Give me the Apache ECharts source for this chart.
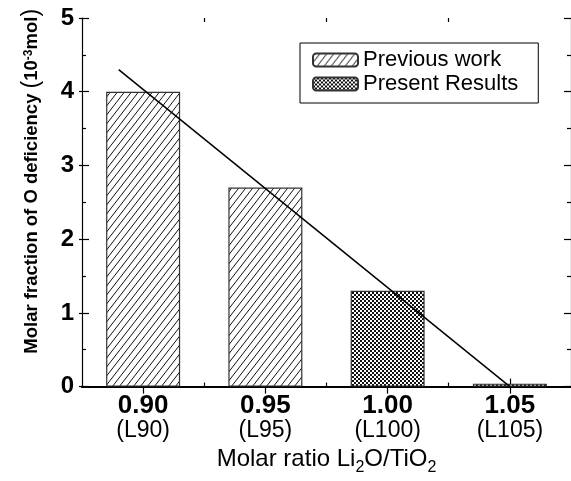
<!DOCTYPE html>
<html>
<head>
<meta charset="utf-8">
<script src="https://cdn.jsdelivr.net/npm/echarts@6/dist/echarts.min.js"></script>
<style>
html,body{margin:0;padding:0;background:#fff;}
#chart{width:571px;height:481px;}
</style>
</head>
<body>
<div id="chart"></div>
<script>
// ---- data ----
const categories = [0.90, 0.95, 1.00, 1.05];
const categoryCodes = ['L90', 'L95', 'L100', 'L105'];
const previousX = [0.90, 0.95];
const previousValues = [4.0, 2.7];
const presentX = [1.00, 1.05];
const presentValues = [1.3, 0.04];
const trendX = [0.89, 1.05];
const trendY = [4.3, 0.0];
const minorXTicks = [0.925, 0.975, 1.025];
const seriesNames = ['Previous work', 'Present Results'];

// ---- patterns ----
function hatchPattern() {
  const w = 7, h = 9;
  const c = document.createElement('canvas');
  c.width = w; c.height = h;
  const ctx = c.getContext('2d');
  ctx.fillStyle = '#fff';
  ctx.fillRect(0, 0, w, h);
  ctx.strokeStyle = '#111';
  ctx.lineWidth = 1;
  ctx.beginPath();
  for (const k of [-w, 0, w]) {
    ctx.moveTo(k, h);
    ctx.lineTo(k + w, 0);
  }
  ctx.stroke();
  return c;
}
function checkerPattern() {
  const c = document.createElement('canvas');
  c.width = 4; c.height = 4;
  const ctx = c.getContext('2d');
  ctx.fillStyle = '#fff';
  ctx.fillRect(0, 0, 4, 4);
  ctx.fillStyle = '#111';
  ctx.fillRect(0, 0, 2, 2);
  ctx.fillRect(2, 2, 2, 2);
  return c;
}

const chart = echarts.init(document.getElementById('chart'));
const FONT = 'Liberation Sans, Arial, sans-serif';
const xMin = 0.875, xMax = 1.075;

function xAxisBase(extra) {
  return Object.assign({
    type: 'value', min: xMin, max: xMax, gridIndex: 0,
    splitLine: { show: false },
    axisLine: { show: false },
    axisLabel: { show: false },
    axisTick: { show: false }
  }, extra);
}

const option = {
  animation: false,
  backgroundColor: '#fff',
  grid: { left: 82, top: 18, width: 491, height: 376, containLabel: false },
  legend: {
    data: seriesNames,
    orient: 'vertical',
    left: 300, top: 43,
    itemWidth: 45, itemHeight: 13, itemGap: 2,
    padding: [6, 20, 8, 12],
    borderColor: '#000', borderWidth: 1,
    textStyle: { fontFamily: FONT, fontSize: 22, color: '#000', lineHeight: 20 }
  },
  xAxis: [
    xAxisBase({
      position: 'bottom',
      axisLine: { show: true, lineStyle: { color: '#000', width: 2 } },
      axisTick: { show: true, inside: true, length: 8, customValues: categories, lineStyle: { color: '#000', width: 1.2 } },
      axisLabel: {
        show: true, margin: 7, customValues: categories,
        formatter: function (v) {
          const i = categories.findIndex(c => Math.abs(c - v) < 1e-6);
          return '{a|' + v.toFixed(2) + '}\n{b|(' + categoryCodes[i] + ')}';
        },
        rich: {
          a: { fontFamily: FONT, fontSize: 26, fontWeight: 'bold', color: '#000', lineHeight: 24 },
          b: { fontFamily: FONT, fontSize: 23, color: '#000', lineHeight: 26 }
        }
      },
      name: '{m|Molar ratio Li}{s|2}{m|O/TiO}{s|2}',
      nameLocation: 'middle',
      nameGap: 55,
      nameTextStyle: {
        rich: {
          m: { fontFamily: FONT, fontSize: 24, color: '#000', lineHeight: 26, verticalAlign: 'middle' },
          s: { fontFamily: FONT, fontSize: 16, color: '#000', lineHeight: 34, verticalAlign: 'bottom' }
        }
      }
    }),
    xAxisBase({
      position: 'bottom',
      axisTick: { show: true, inside: true, length: 4, customValues: minorXTicks, lineStyle: { color: '#000', width: 1.2 } }
    }),
    xAxisBase({
      position: 'top',
      axisLine: { show: true, lineStyle: { color: '#000', width: 2 } },
      axisTick: { show: true, inside: true, length: 7, customValues: categories, lineStyle: { color: '#000', width: 1.2 } }
    }),
    xAxisBase({
      position: 'top',
      axisTick: { show: true, inside: true, length: 4, customValues: minorXTicks, lineStyle: { color: '#000', width: 1.2 } }
    })
  ],
  yAxis: [
    {
      type: 'value', min: 0, max: 5, interval: 1, position: 'left', gridIndex: 0,
      splitLine: { show: false },
      axisLine: { show: true, lineStyle: { color: '#000', width: 1.2 } },
      axisTick: { show: true, inside: true, length: 7, lineStyle: { color: '#000', width: 1.2 } },
      minorTick: { show: true, splitNumber: 2, length: 4, lineStyle: { color: '#000', width: 1.2 } },
      axisLabel: { margin: 8, fontFamily: FONT, fontSize: 24, fontWeight: 'bold', color: '#000' },
      name: '{t|Molar fraction of O deficiency }{p|(}{t|10}{u|-3}{t|mol}{p|)}',
      nameLocation: 'middle',
      nameGap: 41,
      nameTextStyle: {
        padding: [0, 0, 0, 42],
        rich: {
          t: { fontFamily: FONT, fontSize: 18.5, fontWeight: 'bold', color: '#000', lineHeight: 18, verticalAlign: 'middle' },
          u: { fontFamily: FONT, fontSize: 12, fontWeight: 'bold', color: '#000', lineHeight: 12, verticalAlign: 'top' },
          p: { fontFamily: FONT, fontSize: 23, color: '#000', lineHeight: 18, verticalAlign: 'middle' }
        }
      }
    },
    {
      type: 'value', min: 0, max: 5, interval: 1, position: 'left', gridIndex: 0,
      splitLine: { show: false },
      axisLine: { show: false },
      axisLabel: { show: false },
      axisTick: { show: true, inside: false, length: 3, lineStyle: { color: '#000', width: 1.2 } }
    },
    {
      type: 'value', min: 0, max: 5, interval: 1, position: 'right', gridIndex: 0,
      splitLine: { show: false },
      axisLine: { show: true, lineStyle: { color: '#000', width: 1.2 } },
      axisLabel: { show: false },
      axisTick: { show: true, inside: true, length: 7, lineStyle: { color: '#000', width: 1.2 } },
      minorTick: { show: true, splitNumber: 2, length: 4, lineStyle: { color: '#000', width: 1.2 } }
    }
  ],
  series: [
    {
      name: seriesNames[0], type: 'bar', xAxisIndex: 0, yAxisIndex: 0,
      barWidth: 74, barGap: '-100%',
      data: previousX.map((x, i) => [x, previousValues[i]]),
      itemStyle: { color: { image: hatchPattern(), repeat: 'repeat' }, borderColor: '#333', borderWidth: 1.2 }
    },
    {
      name: seriesNames[1], type: 'bar', xAxisIndex: 0, yAxisIndex: 0,
      barWidth: 74, barGap: '-100%',
      data: presentX.map((x, i) => [x, presentValues[i]]),
      itemStyle: { color: { image: checkerPattern(), repeat: 'repeat' }, borderColor: '#333', borderWidth: 1.2 }
    },
    {
      name: 'trend', type: 'line', xAxisIndex: 0, yAxisIndex: 0,
      data: trendX.map((x, i) => [x, trendY[i]]),
      showSymbol: false, symbol: 'none',
      lineStyle: { color: '#000', width: 1.5 },
      z: 5
    }
  ]
};
chart.setOption(option);
</script>
</body>
</html>
